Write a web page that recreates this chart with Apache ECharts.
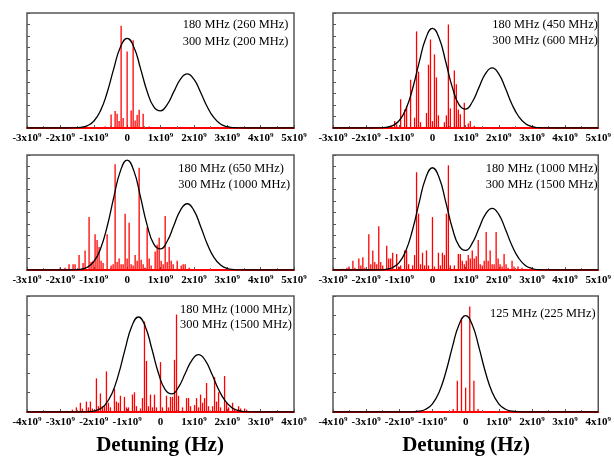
<!DOCTYPE html>
<html><head><meta charset="utf-8">
<script src="https://cdn.jsdelivr.net/npm/echarts@6/dist/echarts.min.js"></script>
<style>html,body{margin:0;padding:0;background:#fff}#c{width:614px;height:457px}</style>
</head><body><div id="c"></div>
<script>
// Frequencies in units of 1e9 Hz; amplitudes normalised to panel height
const envX = [-3,-1.8,-1.6,-1.4,-1.2,-1.0,-0.8,-0.6,-0.4,-0.2,0,0.2,0.4,0.6,0.8,1.0,1.2,1.4,1.6,1.8,2.0,2.2,2.4,2.6,2.8,3.0,3.2,3.4,3.6,5];
const env1 = [0,0,0.001,0.005,0.019,0.059,0.149,0.307,0.516,0.704,0.78,0.705,0.519,0.318,0.184,0.149,0.204,0.316,0.425,0.47,0.424,0.311,0.185,0.090,0.035,0.011,0.003,0.001,0,0];
const env2 = [0,0,0.001,0.006,0.021,0.065,0.165,0.341,0.573,0.781,0.866,0.783,0.576,0.353,0.204,0.165,0.226,0.351,0.472,0.522,0.471,0.345,0.205,0.100,0.039,0.012,0.003,0.001,0,0];
const env3 = [0,0,0.001,0.006,0.023,0.072,0.183,0.376,0.632,0.862,0.956,0.864,0.636,0.390,0.225,0.183,0.250,0.387,0.521,0.576,0.519,0.381,0.227,0.110,0.043,0.013,0.004,0.001,0,0];
const env4 = [0,0,0.001,0.006,0.022,0.067,0.170,0.350,0.588,0.803,0.889,0.804,0.592,0.363,0.210,0.170,0.233,0.360,0.485,0.536,0.483,0.355,0.211,0.103,0.040,0.013,0.003,0.001,0,0];
const env5X = [-4,-2.46,-2.26,-2.06,-1.86,-1.66,-1.46,-1.26,-1.06,-0.86,-0.66,-0.46,-0.26,-0.06,0.14,0.34,0.54,0.74,0.94,1.14,1.34,1.54,1.74,1.94,2.14,2.34,2.54,2.74,2.94,4];
const env5 = [0,0,0.001,0.005,0.020,0.062,0.156,0.322,0.542,0.739,0.819,0.740,0.545,0.334,0.193,0.156,0.214,0.332,0.446,0.494,0.445,0.327,0.194,0.095,0.037,0.012,0.003,0.001,0,0];
const env6X = [-4,-1.8,-1.6,-1.4,-1.2,-1.0,-0.8,-0.6,-0.4,-0.2,0,0.2,0.4,0.6,0.8,1.0,1.2,1.4,1.6,1.8,4];
const env6 = [0,0,0.0015,0.007,0.024,0.070,0.171,0.341,0.559,0.752,0.83,0.752,0.559,0.341,0.171,0.070,0.024,0.007,0.0015,0,0];

const sp1F = [-0.66,-0.48,-0.36,-0.30,-0.24,-0.18,-0.12,0,0.12,0.18,0.24,0.30,0.36,0.48,0.66];
const sp1A = [0.012,0.117,0.147,0.123,0.06,0.89,0.088,0.666,0.152,0.762,0.065,0.114,0.158,0.123,0.012];

const sp2F = [-1.26,-1.14,-1.08,-0.96,-0.84,-0.78,-0.66,-0.54,-0.48,-0.42,-0.36,-0.18,-0.12,-0.06,0,0.06,0.12,0.18,0.36,0.42,0.48,0.54,0.66,0.72,0.78,0.84,0.96,1.08,1.14,1.26];
const sp2A = [0.02,0.06,0.03,0.25,0.16,0.19,0.42,0.09,0.84,0.49,0.05,0.13,0.55,0.77,0.06,0.64,0.44,0.11,0.05,0.11,0.90,0.17,0.50,0.38,0.16,0.12,0.22,0.04,0.06,0.02];

const sp3F = [-2.01,-1.86,-1.74,-1.62,-1.56,-1.44,-1.32,-1.26,-1.14,-1.08,-1.02,-0.96,-0.90,-0.84,-0.78,-0.72,-0.60,-0.48,-0.42,-0.36,-0.30,-0.24,-0.18,-0.12,-0.06,0,0.06,0.12,0.18,0.24,0.30,0.36,0.42,0.48,0.54,0.60,0.66,0.72,0.84,0.90,0.96,1.02,1.08,1.14,1.20,1.26,1.32,1.38,1.50,1.62,1.68,1.74,1.86];
const sp3A = [0.02,0.02,0.05,0.05,0.05,0.13,0.06,0.17,0.46,0.07,0.08,0.31,0.26,0.20,0.08,0.06,0.31,0.04,0.05,0.92,0.07,0.10,0.05,0.05,0.49,0.10,0.41,0.05,0.04,0.13,0.08,0.89,0.09,0.05,0.02,0.37,0.10,0.04,0.16,0.22,0.28,0.08,0.05,0.47,0.07,0.20,0.08,0.05,0.08,0.04,0.05,0.05,0.02];

const sp4F = [-2.70,-2.58,-2.52,-2.40,-2.34,-2.22,-2.16,-2.10,-2.04,-1.92,-1.86,-1.80,-1.74,-1.68,-1.62,-1.56,-1.50,-1.38,-1.32,-1.26,-1.20,-1.08,-1.02,-0.96,-0.84,-0.78,-0.72,-0.60,-0.54,-0.48,-0.42,-0.36,-0.30,-0.24,-0.18,-0.12,0,0.06,0.18,0.24,0.30,0.36,0.42,0.48,0.54,0.66,0.78,0.84,0.90,0.96,1.02,1.08,1.14,1.20,1.26,1.32,1.38,1.44,1.50,1.56,1.62,1.68,1.74,1.80,1.86,1.92,1.98,2.04,2.10,2.16,2.22,2.28,2.40,2.46,2.58,2.70];
const sp4A = [0.01,0.02,0.03,0.08,0.02,0.10,0.04,0.11,0.02,0.31,0.05,0.17,0.07,0.05,0.38,0.07,0.04,0.21,0.10,0.10,0.15,0.14,0.03,0.04,0.17,0.17,0.05,0.04,0.13,0.85,0.49,0.05,0.15,0.04,0.17,0.04,0.46,0.03,0.15,0.04,0.15,0.13,0.49,0.91,0.04,0.04,0.14,0.14,0.08,0.05,0.08,0.13,0.10,0.17,0.10,0.12,0.26,0.05,0.04,0.08,0.33,0.08,0.17,0.05,0.05,0.33,0.10,0.05,0.03,0.14,0.05,0.02,0.08,0.03,0.03,0.02];

const sp5F = [-2.64,-2.52,-2.40,-2.34,-2.22,-2.16,-2.10,-2.04,-1.92,-1.86,-1.80,-1.74,-1.68,-1.62,-1.56,-1.50,-1.38,-1.32,-1.26,-1.20,-1.08,-1.02,-0.96,-0.84,-0.78,-0.72,-0.60,-0.54,-0.48,-0.42,-0.36,-0.30,-0.24,-0.18,-0.12,0,0.06,0.18,0.24,0.30,0.36,0.42,0.48,0.54,0.66,0.78,0.84,0.90,1.02,1.08,1.14,1.20,1.26,1.32,1.38,1.44,1.56,1.62,1.68,1.74,1.80,1.92,1.98,2.04,2.16,2.22,2.34,2.40,2.52,2.58];
const sp5A = [0.02,0.04,0.08,0.03,0.09,0.04,0.09,0.03,0.29,0.05,0.16,0.05,0.05,0.35,0.08,0.04,0.20,0.09,0.08,0.14,0.13,0.04,0.04,0.15,0.17,0.05,0.03,0.12,0.78,0.44,0.05,0.15,0.04,0.15,0.04,0.43,0.04,0.14,0.04,0.13,0.13,0.45,0.84,0.14,0.04,0.12,0.12,0.05,0.06,0.12,0.04,0.15,0.08,0.12,0.25,0.05,0.05,0.30,0.09,0.17,0.04,0.31,0.08,0.04,0.08,0.03,0.05,0.03,0.03,0.02];

const sp6F = [-0.375,-0.25,-0.125,0,0.125,0.25,0.375];
const sp6A = [0.026,0.27,0.81,0.21,0.91,0.27,0.026];

const axisRanges = [[-3,5],[-3,5],[-3,5],[-3,5],[-4,4],[-4,4]];
const notes = [
  ['180 MHz (260 MHz)','300 MHz (200 MHz)'],
  ['180 MHz (450 MHz)','300 MHz (600 MHz)'],
  ['180 MHz (650 MHz)','300 MHz (1000 MHz)'],
  ['180 MHz (1000 MHz)','300 MHz (1500 MHz)'],
  ['180 MHz (1000 MHz)','300 MHz (1500 MHz)'],
  ['125 MHz (225 MHz)']
];
const xTitle = 'Detuning (Hz)';

const envs = [[envX,env1],[envX,env2],[envX,env3],[envX,env4],[env5X,env5],[env6X,env6]];
const spikes = [[sp1F,sp1A],[sp2F,sp2A],[sp3F,sp3A],[sp4F,sp4A],[sp5F,sp5A],[sp6F,sp6A]];

const gridBoxes = [
  {left:27, top:13, width:267, height:115},
  {left:333, top:13, width:267, height:115},
  {left:27, top:155, width:267, height:115},
  {left:333, top:155, width:267, height:115},
  {left:27, top:296, width:267, height:116},
  {left:333, top:296, width:267, height:116}
];
const notePos = [[182.7,24.3,41.7],[492.3,25,40.7],[178.3,169,185],[485.7,169,184.3],[180,310,324.3],[490,313.3]];
const yInt = [0.1,0.1,0.1,0.1,1/6,1/6];

const serif = '"Liberation Serif","Times New Roman",serif';
const grid=[], xAxis=[], yAxis=[], series=[], graphic=[];
for (let i=0;i<6;i++){
  grid.push(Object.assign({show:true, borderColor:'#555', borderWidth:1.5, backgroundColor:'transparent'}, gridBoxes[i]));
  xAxis.push({type:'value', gridIndex:i, min:axisRanges[i][0], max:axisRanges[i][1], interval:1,
    axisLine:{show:true, onZero:false, lineStyle:{color:'#ff0000', width:2}},
    axisTick:{show:true, inside:true, length:3, lineStyle:{color:'#555'}},
    minorTick:{show:true, splitNumber:2, length:2, lineStyle:{color:'#777'}},
    splitLine:{show:false},
    axisLabel:{margin:4, formatter:function(v){ return v===0 ? '{a|0}' : '{a|'+v+'x10}{s|9}'; },
      rich:{a:{fontFamily:serif, fontWeight:'bold', fontSize:11, color:'#000', lineHeight:13},
            s:{fontFamily:serif, fontWeight:'bold', fontSize:7, color:'#000', lineHeight:7, verticalAlign:'top'}}}
  });
  yAxis.push({type:'value', gridIndex:i, min:0, max:1, interval:yInt[i], position:'left',
    axisLine:{show:false, onZero:false}, axisLabel:{show:false}, splitLine:{show:false},
    axisTick:{show:true, inside:true, length:3, lineStyle:{color:'#555'}}});
  const sd = spikes[i][0].map((f,k)=>[f, spikes[i][1][k]]);
  series.push({type:'bar', xAxisIndex:i, yAxisIndex:i, data:sd, barWidth:1.3, itemStyle:{color:'#ff0000'}, z:2, animation:false});
  const ed = envs[i][0].map((x,k)=>[x, envs[i][1][k]]);
  series.push({type:'line', xAxisIndex:i, yAxisIndex:i, data:ed, smooth:0.5, showSymbol:false,
    lineStyle:{color:'#000', width:1.3}, z:3, animation:false});
  const np = notePos[i];
  notes[i].forEach((t,k)=>{
    graphic.push({type:'text', x:np[0], y:np[k+1], z:10,
      style:{text:t, font:'12.4px '+serif, fill:'#000', verticalAlign:'middle', align:'left'}});
  });
}
graphic.push({type:'text', x:160, y:446, style:{text:xTitle, font:'bold 21px '+serif, fill:'#000', align:'center', verticalAlign:'middle'}});
graphic.push({type:'text', x:466, y:446, style:{text:xTitle, font:'bold 21px '+serif, fill:'#000', align:'center', verticalAlign:'middle'}});

const chart = echarts.init(document.getElementById('c'), null, {renderer:'canvas'});
chart.setOption({animation:false, backgroundColor:'#fff', grid, xAxis, yAxis, series, graphic});
</script></body></html>
